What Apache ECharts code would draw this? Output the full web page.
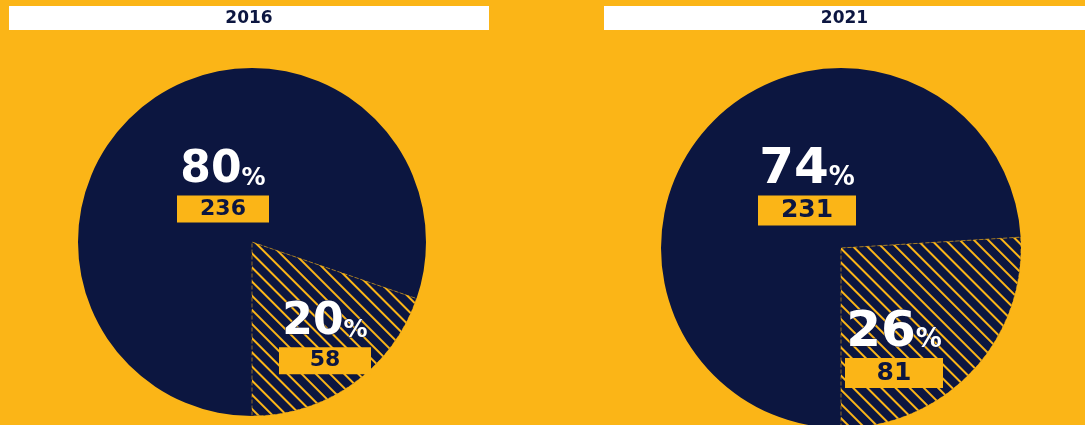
<!DOCTYPE html>
<html>
<head>
<meta charset="utf-8">
<script src="https://cdn.jsdelivr.net/npm/echarts@6/dist/echarts.min.js"></script>
<style>
  html, body { margin: 0; padding: 0; background: #FBB517; }
  #chart { width: 1085px; height: 425px; }
</style>
</head>
<body>
<div id="chart"></div>
<script>
// Survey split per year: [majority group, highlighted group]
const years = ['2016', '2021'];
const categories = ['Group A', 'Group B'];
const values2016 = [236, 58];
const values2021 = [231, 81];

const NAVY = '#0C1640';
const GOLD = '#FBB517';
const FONT = 'DejaVu Sans';

// Placement and sizing of each year's pie and its labels
const layouts = [
  { center: [252, 242], radius: 174, n: 44, p: 24, v: 22, boxW: 92, boxH: 27, padN: 2.5, padP: 4.3,
    labels: [[223, 149], [325, 300.7]], bar: [9, 480] },
  { center: [841, 248], radius: 180, n: 50, p: 26, v: 25, boxW: 98, boxH: 30, padN: 0, padP: 4.5,
    labels: [[807, 145.5], [894, 308]], bar: [604, 481] }
];

function makeSeries(i, values) {
  const L = layouts[i];
  return {
    type: 'pie',
    center: L.center,
    radius: L.radius,
    startAngle: 270,
    clockwise: true,
    animation: false,
    silent: true,
    avoidLabelOverlap: false,
    emphasis: { disabled: true },
    data: values.map((v, k) => ({
      name: categories[k],
      value: v,
      itemStyle: k === 0
        ? { color: NAVY }
        : {
            color: NAVY,
            borderColor: 'rgba(251,181,23,0.3)',
            borderWidth: 1,
            borderType: 'dashed',
            decal: {
              symbol: 'rect',
              symbolSize: 1,
              color: GOLD,
              dashArrayX: [1, 0],
              dashArrayY: [1.5, 7.5],
              rotation: Math.PI / 4
            }
          }
    })),
    label: {
      show: true,
      position: 'inside',
      align: 'center',
      formatter: p => `{n|${Math.round(p.percent)}}{p|%}\n{v|${p.value}}`,
      rich: {
        n: { fontFamily: FONT, fontWeight: 'bold', fontSize: L.n, color: '#fff',
             verticalAlign: 'bottom', padding: [0, 0, L.padN, 0],
             textBorderColor: NAVY, textBorderWidth: 1 },
        p: { fontFamily: FONT, fontWeight: 'bold', fontSize: L.p, color: '#fff',
             verticalAlign: 'bottom', padding: [0, 0, L.padP, 0],
             textBorderColor: NAVY, textBorderWidth: 1 },
        v: { fontFamily: FONT, fontWeight: 'bold', fontSize: L.v, color: NAVY,
             backgroundColor: GOLD, width: L.boxW, height: L.boxH, lineHeight: L.boxH,
             align: 'center', verticalAlign: 'middle' }
      }
    },
    labelLine: { show: false },
    labelLayout: p => ({
      x: L.labels[p.dataIndex][0],
      y: L.labels[p.dataIndex][1],
      align: 'center',
      verticalAlign: 'top'
    })
  };
}

const graphic = [];
years.forEach((y, i) => {
  const [bx, bw] = layouts[i].bar;
  graphic.push({ type: 'rect', shape: { x: bx, y: 6, width: bw, height: 24 }, style: { fill: '#fff' } });
  graphic.push({ type: 'text', x: bx + bw / 2, y: 18.5,
    style: { text: y, font: `bold 17px "${FONT}"`, fill: NAVY, align: 'center', verticalAlign: 'middle' } });
});

const chart = echarts.init(document.getElementById('chart'));
chart.setOption({
  backgroundColor: GOLD,
  animation: false,
  graphic: graphic,
  series: [makeSeries(0, values2016), makeSeries(1, values2021)]
});
</script>
</body>
</html>
